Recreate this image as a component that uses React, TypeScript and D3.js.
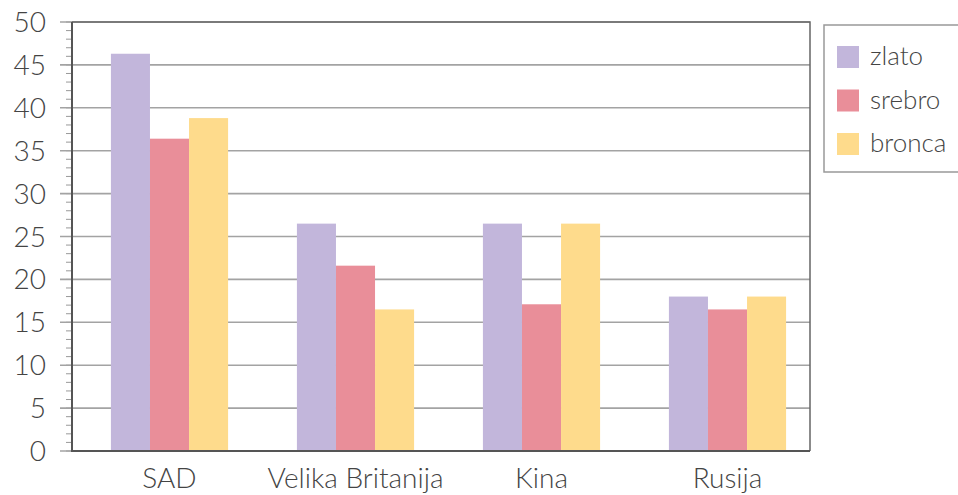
import { useEffect, useRef } from "react";
import * as d3 from "d3";

const countries = ["SAD", "Velika Britanija", "Kina", "Rusija"];
const medals = ["zlato", "srebro", "bronca"];
const zlato = [46.3, 26.5, 26.5, 18];
const srebro = [36.4, 21.6, 17.1, 16.5];
const bronca = [38.8, 16.5, 26.5, 18];
const medalColors = ["#c2b6db", "#e98e99", "#fedb8c"];
const yTicks = [0, 5, 10, 15, 20, 25, 30, 35, 40, 45, 50];

const width = 958;
const height = 495;
const font = "Lato, 'Open Sans', sans-serif";

export default function App() {
  const svgRef = useRef<SVGSVGElement>(null);

  useEffect(() => {
    if (!svgRef.current) return;
    const svg = d3.select(svgRef.current);
    svg.selectAll("*").remove();

    const left = 72;
    const right = 810;
    const top = 22;
    const bottom = 451;

    const y = d3.scaleLinear().domain([0, 50]).range([bottom, top]);

    // groups of bars
    const x0 = d3
      .scaleBand<string>()
      .domain(countries)
      .range([76.5, 820.5])
      .paddingInner(0.37)
      .paddingOuter(0.185);
    const x1 = d3.scaleBand<string>().domain(medals).range([0, x0.bandwidth()]);

    const series = [zlato, srebro, bronca];

    // minor ticks
    svg
      .append("g")
      .selectAll("line")
      .data(d3.range(0, 51, 1))
      .enter()
      .append("line")
      .attr("x1", left - 6)
      .attr("x2", left)
      .attr("y1", (d) => y(d))
      .attr("y2", (d) => y(d))
      .attr("stroke", "#999")
      .attr("stroke-width", 1);

    // gridlines + major ticks
    svg
      .append("g")
      .selectAll("line")
      .data(yTicks)
      .enter()
      .append("line")
      .attr("x1", left - 12)
      .attr("x2", right)
      .attr("y1", (d) => y(d))
      .attr("y2", (d) => y(d))
      .attr("stroke", "#a3a3a3")
      .attr("stroke-width", 1.6);

    // tick labels
    svg
      .append("g")
      .selectAll("text")
      .data(yTicks)
      .enter()
      .append("text")
      .attr("x", 46)
      .attr("y", (d) => y(d))
      .attr("dy", "0.36em")
      .attr("text-anchor", "end")
      .attr("font-family", font)
      .attr("font-weight", 300)
      .attr("font-size", 28)
      .attr("fill", "#444")
      .text((d) => d);

    // bars
    const groups = svg
      .append("g")
      .selectAll("g")
      .data(countries)
      .enter()
      .append("g")
      .attr("transform", (d) => `translate(${x0(d)},0)`);

    groups
      .selectAll("rect")
      .data((_, i) => medals.map((m, j) => ({ medal: m, value: series[j][i], color: medalColors[j] })))
      .enter()
      .append("rect")
      .attr("x", (d) => x1(d.medal)!)
      .attr("width", x1.bandwidth())
      .attr("y", (d) => y(d.value))
      .attr("height", (d) => bottom - y(d.value))
      .attr("fill", (d) => d.color);

    // plot frame
    svg
      .append("path")
      .attr("d", `M${left},${top}H${right}V${bottom}`)
      .attr("fill", "none")
      .attr("stroke", "#666")
      .attr("stroke-width", 1.5);
    svg
      .append("path")
      .attr("d", `M${left},${top}V${bottom}H${right}`)
      .attr("fill", "none")
      .attr("stroke", "#555")
      .attr("stroke-width", 2);

    // category labels
    svg
      .append("g")
      .selectAll("text")
      .data(countries)
      .enter()
      .append("text")
      .attr("x", (d) => x0(d)! + x0.bandwidth() / 2)
      .attr("y", 488)
      .attr("text-anchor", "middle")
      .attr("font-family", font)
      .attr("font-weight", 300)
      .attr("font-size", 28)
      .attr("fill", "#444")
      .text((d) => d);

    // legend
    const legend = svg.append("g");
    legend
      .append("rect")
      .attr("x", 824)
      .attr("y", 25)
      .attr("width", 150)
      .attr("height", 147)
      .attr("fill", "#fff")
      .attr("stroke", "#999")
      .attr("stroke-width", 1.5);

    const items = legend
      .selectAll("g")
      .data(medals)
      .enter()
      .append("g")
      .attr("transform", (_, i) => `translate(837,${57 + i * 43.5})`);
    items
      .append("rect")
      .attr("x", 0)
      .attr("y", -11)
      .attr("width", 22)
      .attr("height", 22)
      .attr("fill", (_, i) => medalColors[i]);
    items
      .append("text")
      .attr("x", 33)
      .attr("y", 0)
      .attr("dy", "0.32em")
      .attr("font-family", font)
      .attr("font-weight", 300)
      .attr("font-size", 26)
      .attr("fill", "#444")
      .text((d) => d);
  }, []);

  return (
    <svg
      ref={svgRef}
      width={width}
      height={height}
      style={{ position: "absolute", left: 0, top: 0, background: "#fff" }}
    ></svg>
  );
}
